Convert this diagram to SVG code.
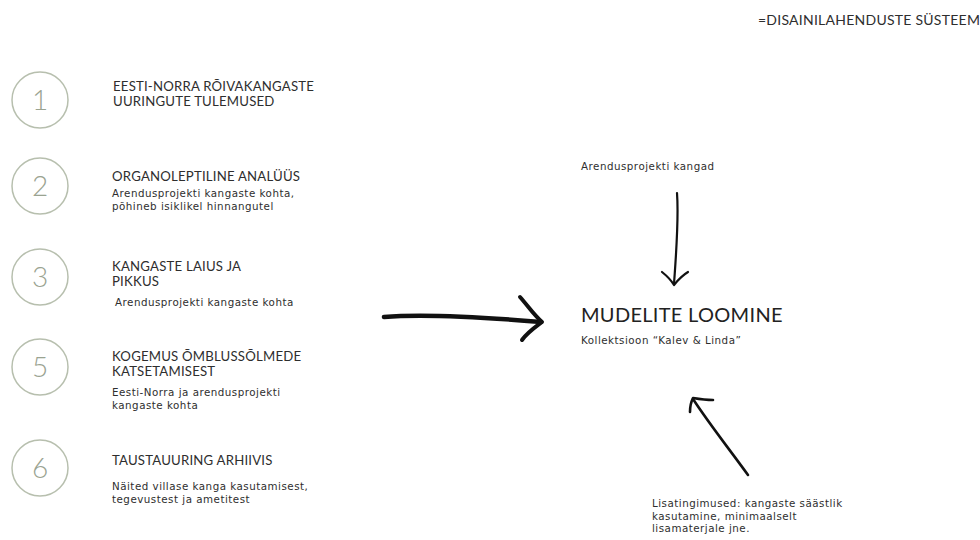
<svg xmlns="http://www.w3.org/2000/svg" width="980" height="540" viewBox="0 0 980 540">
<style>
.bg{fill:#ffffff}
.ring{fill:none;stroke:#b7bfae;stroke-width:1.5}
.num{font-family:Lato,"Noto Sans",sans-serif;font-weight:300;font-size:28px;fill:#9aa391;text-anchor:middle}
.head{font-family:Lato,"Noto Sans",sans-serif;font-size:13.2px;letter-spacing:0.2px;fill:#2e2e2e}
.body{font-family:"DejaVu Sans","Noto Sans",sans-serif;font-size:10.3px;letter-spacing:0.5px;fill:#2e2e2e}
.title{font-family:Lato,"Noto Sans",sans-serif;font-size:20px;fill:#222;letter-spacing:0.3px}
.arrow{fill:none;stroke:#111;stroke-linecap:round;stroke-linejoin:round}
</style>
<rect class="bg" x="0" y="0" width="980" height="540"/>

<g id="header">
<text class="head" x="758" y="25" style="font-size:14px;letter-spacing:0.25px">=DISAINILAHENDUSTE SÜSTEEM</text>
</g>

<g id="node-1">
<circle class="ring" cx="40" cy="100" r="28"/>
<text class="num" x="40" y="110">1</text>
<text class="head" x="113" y="91">EESTI-NORRA RÕIVAKANGASTE</text>
<text class="head" x="113" y="106">UURINGUTE TULEMUSED</text>
</g>

<g id="node-2">
<circle class="ring" cx="40" cy="186" r="28"/>
<text class="num" x="40" y="196">2</text>
<text class="head" x="112" y="181">ORGANOLEPTILINE ANALÜÜS</text>
<text class="body" x="112" y="197">Arendusprojekti kangaste kohta,</text>
<text class="body" x="112" y="209.5">põhineb isiklikel hinnangutel</text>
</g>

<g id="node-3">
<circle class="ring" cx="40" cy="277" r="28"/>
<text class="num" x="40" y="287">3</text>
<text class="head" x="112" y="271">KANGASTE LAIUS JA</text>
<text class="head" x="112" y="286">PIKKUS</text>
<text class="body" x="115" y="306">Arendusprojekti kangaste kohta</text>
</g>

<g id="node-5">
<circle class="ring" cx="40" cy="367" r="28"/>
<text class="num" x="40" y="377">5</text>
<text class="head" x="112" y="361">KOGEMUS ÕMBLUSSÕLMEDE</text>
<text class="head" x="112" y="376">KATSETAMISEST</text>
<text class="body" x="112" y="396">Eesti-Norra ja arendusprojekti</text>
<text class="body" x="112" y="408.5">kangaste kohta</text>
</g>

<g id="node-6">
<circle class="ring" cx="40" cy="468" r="28"/>
<text class="num" x="40" y="478">6</text>
<text class="head" x="112" y="465">TAUSTAUURING ARHIIVIS</text>
<text class="body" x="112" y="490">Näited villase kanga kasutamisest,</text>
<text class="body" x="112" y="503">tegevustest ja ametitest</text>
</g>

<g id="node-fabrics">
<text class="body" x="581" y="170">Arendusprojekti kangad</text>
</g>

<g id="node-main">
<text class="title" x="581" y="322">MUDELITE LOOMINE</text>
<text class="body" x="581" y="344">Kollektsioon “Kalev &amp; Linda”</text>
</g>

<g id="node-conditions">
<text class="body" x="652" y="507">Lisatingimused: kangaste säästlik</text>
<text class="body" x="652" y="519.5">kasutamine, minimaalselt</text>
<text class="body" x="652" y="532">lisamaterjale jne.</text>
</g>

<g id="connectors">
<path class="arrow" stroke-width="4.5" d="M384 317 C420 314 470 316 541 322"/>
<path class="arrow" stroke-width="4" d="M520 297 C528 306 534 315 542 322 C534 328 527 333 522 340"/>
<path class="arrow" stroke-width="2.2" d="M677 193 C679 220 676 255 674 284"/>
<path class="arrow" stroke-width="2.2" d="M662 272 C667 276 671 280 674 285 C678 280 683 275 688 272"/>
<path class="arrow" stroke-width="2.6" d="M748 475 C730 450 710 425 693 399"/>
<path class="arrow" stroke-width="2.6" d="M690 412 C690 406 691 402 693 398 C699 399 706 400 713 400"/>
</g>
</svg>
